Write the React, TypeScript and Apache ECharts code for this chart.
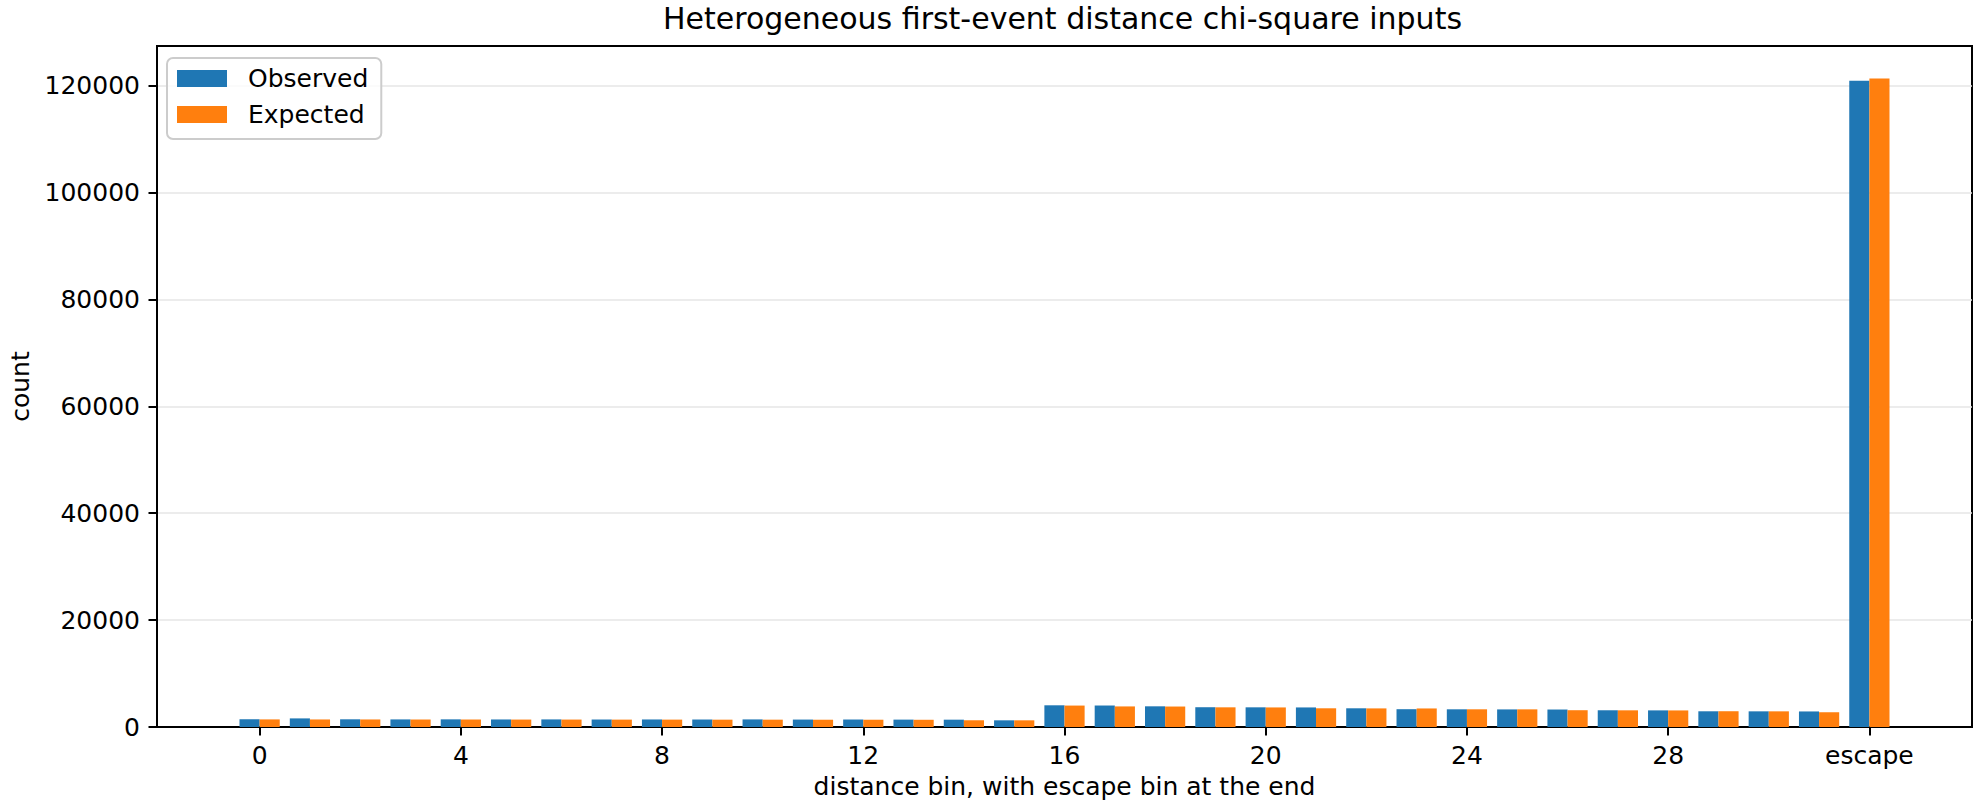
import React, { useEffect, useRef } from "react";
import * as echarts from "echarts";

const categories = [
  "0", "1", "2", "3", "4", "5", "6", "7", "8", "9", "10", "11", "12", "13", "14", "15",
  "16", "17", "18", "19", "20", "21", "22", "23", "24", "25", "26", "27", "28", "29", "30", "31",
  "escape",
];
const observed = [
  1430, 1610, 1440, 1420, 1430, 1410, 1420, 1400, 1410, 1400, 1420, 1390, 1400, 1380, 1370, 1250,
  4060, 4020, 3870, 3700, 3680, 3660, 3500, 3330, 3310, 3290, 3270, 3130, 3110, 2940, 2930, 2910,
  120900,
];
const expected = [
  1420, 1410, 1410, 1400, 1400, 1390, 1390, 1380, 1380, 1370, 1370, 1360, 1360, 1350, 1260, 1250,
  4010, 3850, 3830, 3680, 3660, 3500, 3480, 3470, 3310, 3300, 3140, 3120, 3100, 2950, 2930, 2760,
  121300,
];
const xTickValues = [0, 4, 8, 12, 16, 20, 24, 28, 32];
const yTickValues = [0, 20000, 40000, 60000, 80000, 100000, 120000];

const FONT = "DejaVu Sans";

export default function App() {
  const ref = useRef<HTMLDivElement>(null);
  useEffect(() => {
    if (!ref.current) return;
    const chart = echarts.init(ref.current, null, { renderer: "svg" });
    chart.setOption({
      animation: false,
      backgroundColor: "#ffffff",
      textStyle: { fontFamily: FONT },
      graphic: [
        {
          type: "text",
          x: 1062.5,
          y: 18,
          style: {
            text: "Heterogeneous first-event distance chi-square inputs",
            fontFamily: FONT,
            fontSize: 30,
            fill: "#000",
            textAlign: "center",
            textVerticalAlign: "middle",
          },
        },
      ],
      legend: {
        orient: "vertical",
        left: 167,
        top: 58,
        itemWidth: 50,
        itemHeight: 17,
        itemGap: 11,
        icon: "rect",
        padding: [8, 13, 12, 10],
        backgroundColor: "rgba(255,255,255,0.8)",
        borderColor: "#cccccc",
        borderWidth: 2,
        borderRadius: 6,
        textStyle: { fontFamily: FONT, fontSize: 25, color: "#000", padding: [0, 0, 0, 16] },
        data: ["Observed", "Expected"],
      },
      grid: {
        left: 153,
        top: 46,
        width: 1819,
        height: 681,
        show: true,
        borderColor: "#000",
        borderWidth: 2,
        backgroundColor: "transparent",
      },
      xAxis: {
        type: "value",
        min: -2.04,
        max: 34.04,
        name: "distance bin, with escape bin at the end",
        nameLocation: "middle",
        nameGap: 47,
        nameTextStyle: { fontFamily: FONT, fontSize: 25, color: "#000" },
        axisLine: { show: true, onZero: false, lineStyle: { color: "#000", width: 2 } },
        axisTick: { show: true, length: 8.5, lineStyle: { color: "#000", width: 2 }, customValues: xTickValues },
        axisLabel: {
          customValues: xTickValues,
          margin: 16,
          fontFamily: FONT,
          fontSize: 25,
          color: "#000",
          formatter: (v: number) => categories[Math.round(v)] ?? "",
        },
        splitLine: { show: false },
      },
      yAxis: {
        type: "value",
        min: 0,
        max: 127400,
        interval: 20000,
        name: "count",
        nameLocation: "middle",
        nameGap: 124,
        nameTextStyle: { fontFamily: FONT, fontSize: 25, color: "#000" },
        axisLine: { show: true, onZero: false, lineStyle: { color: "#000", width: 2 } },
        axisTick: { show: true, length: 8.5, lineStyle: { color: "#000", width: 2 }, customValues: yTickValues },
        axisLabel: {
          customValues: yTickValues,
          margin: 17,
          fontFamily: FONT,
          fontSize: 25,
          color: "#000",
          formatter: (v: number) => String(v),
        },
        splitLine: { show: true, lineStyle: { color: "#e6e6e6", width: 1.7 } },
      },
      series: [
        {
          name: "Observed",
          type: "bar",
          data: observed.map((v, i) => [i, v]),
          barWidth: "40%",
          barGap: "0%",
          itemStyle: { color: "#1f77b4" },
        },
        {
          name: "Expected",
          type: "bar",
          data: expected.map((v, i) => [i, v]),
          barWidth: "40%",
          barGap: "0%",
          itemStyle: { color: "#ff7f0e" },
        },
      ],
    });
    return () => chart.dispose();
  }, []);
  return (
    <div
      ref={ref}
      style={{ position: "fixed", left: 0, top: 0, width: 1980, height: 810 }}
    />
  );
}
